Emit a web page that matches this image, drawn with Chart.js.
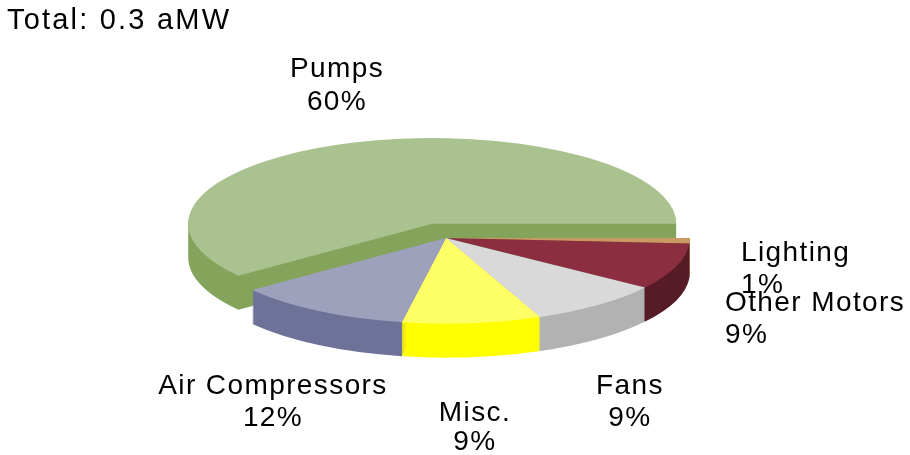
<!DOCTYPE html>
<html>
<head>
<meta charset="utf-8">
<style>
  html, body { margin: 0; padding: 0; background: #fff; }
  canvas { display: block; }
</style>
<script src="https://cdn.jsdelivr.net/npm/chart.js@4"></script>
</head>
<body>
<canvas id="chart" width="910" height="455"></canvas>
<script>
const title = "Total: 0.3 aMW";
// clockwise from east, same order as the original pie
const categories = ["Lighting", "Other Motors", "Fans", "Misc.", "Air Compressors", "Pumps"];
const shares = [1, 8.8, 8.9, 9.2, 11.7, 60.4]; // slice sizes
const shareLabels = ["1%", "9%", "9%", "9%", "12%", "60%"];
const topColors = ["#c99b62", "#8b2e3f", "#d9d9d9", "#ffff66", "#9da1bc", "#a9c28f"];
const wallColors = ["#a87f4c", "#561b27", "#b2b2b2", "#ffff00", "#6e7298", "#84a45c"];

// where the labels sit: [x, first baseline, second baseline, align]
const labelSpots = [
  [741, 261, 293, "left"],
  [725, 311, 343, "left"],
  [630, 394, 426, "center"],
  [475, 421, 450, "center"],
  [273, 394, 426, "center"],
  [337, 77, 110, "center"],
];

// pie look
const centerX = 446, centerY = 238, radius = 244;
const squash = 0.351, depth = 34;
const explode = [0, 0, 0, 0, 0, 43];
const wallOrder = [5, 0, 1, 4, 2, 3]; // back to front

function shift(arc, i) {
  const mid = (arc.startAngle + arc.endAngle) / 2;
  return [Math.cos(mid) * explode[i], Math.sin(mid) * explode[i]];
}

const pie3d = {
  id: "pie3d",
  beforeDatasetsDraw(chart) {
    const ctx = chart.ctx;
    const arcs = chart.getDatasetMeta(0).data;
    // walls: one path with a copy of the slice per pixel of depth
    wallOrder.forEach(i => {
      const arc = arcs[i];
      const [dx, dy] = shift(arc, i);
      ctx.fillStyle = wallColors[i];
      ctx.beginPath();
      for (let d = 1; d <= depth; d++) {
        const px = centerX + dx, py = centerY + dy * squash + d;
        ctx.moveTo(px, py);
        ctx.ellipse(px, py, arc.outerRadius, arc.outerRadius * squash, 0, arc.startAngle, arc.endAngle);
        ctx.closePath();
      }
      ctx.fill();
    });
    // tops: the library's own arcs, moved and flattened
    arcs.forEach((arc, i) => {
      const [dx, dy] = shift(arc, i);
      ctx.save();
      ctx.translate(centerX, centerY);
      ctx.scale(1, squash);
      ctx.translate(dx - arc.x, dy - arc.y);
      arc.draw(ctx);
      ctx.restore();
    });
    return false;
  },
  afterDraw(chart) {
    const ctx = chart.ctx;
    ctx.save();
    ctx.fillStyle = "#000";
    ctx.textAlign = "left";
    ctx.font = "29px 'Liberation Sans'";
    ctx.letterSpacing = "2.2px";
    ctx.fillText(title, 7, 29);
    ctx.font = "28px 'Liberation Sans'";
    ctx.letterSpacing = "1.4px";
    categories.forEach((name, i) => {
      const [x, y1, y2, align] = labelSpots[i];
      ctx.textAlign = align;
      ctx.fillText(name, x, y1);
      ctx.fillText(shareLabels[i], x, y2);
    });
    ctx.restore();
  },
};

new Chart(document.getElementById("chart"), {
  type: "pie",
  plugins: [pie3d],
  data: {
    labels: categories,
    datasets: [{
      data: shares,
      backgroundColor: topColors,
      borderWidth: 0,
    }],
  },
  options: {
    responsive: false,
    animation: false,
    radius: radius,
    rotation: 90,
    plugins: {
      legend: { display: false },
      tooltip: { enabled: false },
    },
  },
});
</script>
</body>
</html>
